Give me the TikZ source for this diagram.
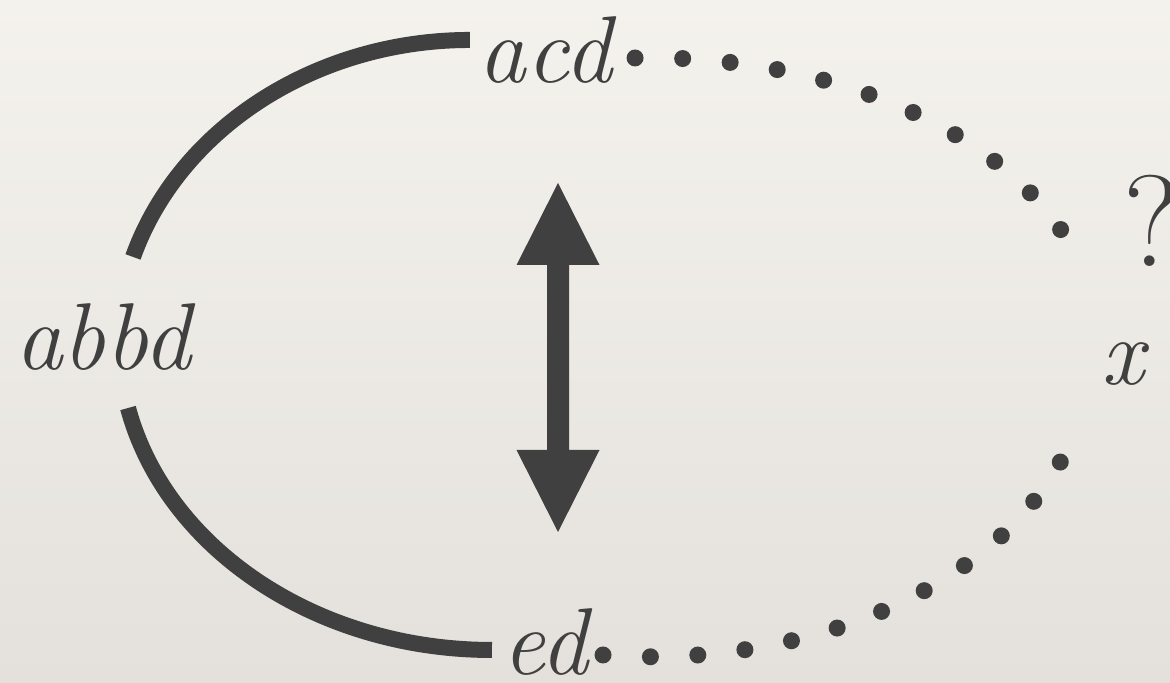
\documentclass[tikz,border=0pt]{standalone}
\definecolor{ink}{HTML}{404040}
\definecolor{papertop}{HTML}{F4F2ED}
\definecolor{paperbot}{HTML}{E4E1DC}
\begin{document}
\begin{tikzpicture}[x=0.01cm, y=-0.01cm,
    word/.style={inner sep=0pt, anchor=base, text=ink, font=\fontsize{27pt}{32pt}\selectfont\itshape},
    thickarc/.style={draw=ink, line width=0.16cm},
    dotchain/.style={draw=ink, line width=0.17cm, line cap=round, dash pattern=on 0pt off #1}]

    % Fondo
    \useasboundingbox (0,0) rectangle (1170,683);
    \shade[top color=papertop, bottom color=paperbot] (0,0) rectangle (1170,683);

    % Palabras
    \node[word] (abbd) at (103,370) {abbd};
    \node[word] (acd) at (545,83) {acd};
    \node[word] (ed) at (545,675) {ed};
    \node[word] (x) at (1123,385) {x};
    \node[word, font=\fontsize{37pt}{44pt}\selectfont] (q) at (1152,267) {?};

    % Arcos
    \draw[thickarc] ([xshift=0.30cm,yshift=1.13cm]abbd.base) .. controls (179.2,128.1) and (316,40) .. ([xshift=-0.75cm,yshift=0.43cm]acd.base);
    \draw[thickarc] ([xshift=0.25cm,yshift=-0.38cm]abbd.base) .. controls (166.3,549.4) and (317.5,650) .. ([xshift=-0.53cm,yshift=0.25cm]ed.base);

    % Puntos
    \draw[dotchain=0.476cm] ([xshift=0.90cm,yshift=0.25cm]acd.base) .. controls (819.4,54) and (989.7,122.9) .. ([xshift=-0.89cm,yshift=0.34cm]q.base);
    \draw[dotchain=0.474cm] ([xshift=0.58cm,yshift=0.2cm]ed.base) .. controls (803,670) and (993.4,589.4) .. ([xshift=-0.60cm,yshift=-0.72cm]x.base);

    % Flecha doble
    \coordinate (up) at (558,183);
    \coordinate (down) at (558,532);
    \fill[ink] (up) -- ++(41.5,82) -- ++(-30.5,0) -- ++(0,185) -- ++(30.5,0) -- (down)
        -- ++(-41.5,-82) -- ++(30.5,0) -- ++(0,-185) -- ++(-30.5,0) -- cycle;

\end{tikzpicture}
\end{document}
